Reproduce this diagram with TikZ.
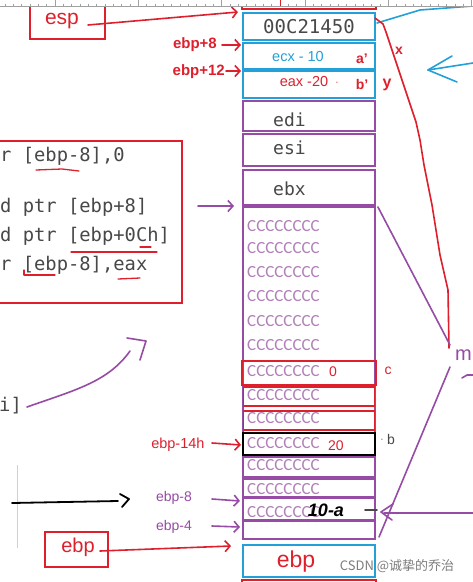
\documentclass[tikz,border=0pt]{standalone}
\usepackage{xcolor}
\usepackage{tikz}
\usepackage{fontspec}
\setmainfont{Liberation Sans}
\setmonofont{DejaVu Sans Mono}
\newfontfamily\cjk{Noto Sans CJK SC}
\newfontfamily\cellfont{Carlito}
\usetikzlibrary{arrows.meta,positioning,calc}
\definecolor{stackred}{RGB}{222,32,45}
\definecolor{stackblue}{RGB}{35,160,215}
\definecolor{stackpurple}{RGB}{150,75,165}
\definecolor{cccpurple}{RGB}{178,128,184}
\definecolor{codegray}{RGB}{72,72,72}
\definecolor{rulergray}{RGB}{160,160,160}
\definecolor{markgray}{RGB}{125,125,125}

\tikzset{
  slot/.style={draw, line width=1.8pt, minimum width=132pt, inner sep=0pt},
  ccrow/.style={font=\cellfont\fontsize{17}{18}\selectfont, text=cccpurple, anchor=west, inner sep=0pt},
  asmtext/.style={font=\ttfamily\fontsize{18.8}{20}\selectfont, text=codegray, anchor=west, inner sep=0pt},
  regtext/.style={font=\ttfamily\fontsize{18}{20}\selectfont, text=codegray, anchor=west, inner sep=0pt},
  ptrlabel/.style={font=\bfseries\fontsize{15}{16}\selectfont, text=stackred, inner sep=0pt},
  handline/.style={line width=1.6pt, line cap=round, line join=round},
  barb/.style={-{Straight Barb[length=5pt,width=11pt]}}
}

\begin{document}
\begin{tikzpicture}[x=1pt, y=-1pt]
  \useasboundingbox (0,0) rectangle (473,582);
  \fill[white] (0,0) rectangle (473,582);

  \draw[stackred, line width=1.8pt] (242,-2) -- (242,9) -- (376,9) -- (376,-2);
  \node[slot, draw=stackblue, minimum height=27pt] (retslot) at (309,26.5) {};
  \node[regtext, font=\ttfamily\fontsize{19}{20}\selectfont, anchor=center] (retval) at (309,27) {00C21450};
  \node[slot, draw=stackblue, minimum height=26pt] (parA) at (309,56) {};
  \node[font=\fontsize{14.5}{15}\selectfont, text=stackblue] (parAval) at (298,57) {ecx - 10};
  \node[ptrlabel, font=\bfseries\fontsize{14}{15}\selectfont] (parAname) at (362,59) {a'};
  \node[slot, draw=stackblue, minimum height=27pt] (parB) at (309,84.5) {};
  \node[font=\fontsize{14.5}{15}\selectfont, text=stackred] (parBval) at (304,82) {eax -20};
  \node[text=stackred, inner sep=0pt] (parBdot) at (337,84) {·};
  \node[ptrlabel, font=\bfseries\fontsize{14}{15}\selectfont] (parBname) at (362,84) {b'};

  \node[slot, draw=stackpurple, minimum height=30pt] (edislot) at (309,116) {};
  \node[regtext] (edi) at (273,120) {edi};
  \node[slot, draw=stackpurple, minimum height=32pt] (esislot) at (309,150) {};
  \node[regtext] (esi) at (273,148) {esi};
  \node[slot, draw=stackpurple, minimum height=35pt] (ebxslot) at (309,187.5) {};
  \node[regtext] (ebx) at (273,189) {ebx};

  \node[slot, draw=stackpurple, minimum height=332pt] (locals) at (309,373) {};
  \node[ccrow] (row1) at (247,226) {CCCCCCCC};
  \node[ccrow] (row2) at (247,248) {CCCCCCCC};
  \node[ccrow] (row3) at (247,272) {CCCCCCCC};
  \node[ccrow] (row4) at (247,296) {CCCCCCCC};
  \node[ccrow] (row5) at (247,321) {CCCCCCCC};
  \node[ccrow] (row6) at (247,345) {CCCCCCCC};
  \node[slot, draw=stackred, minimum width=134pt, minimum height=24pt] (cvar) at (309,373) {};
  \node[ccrow] (row7) at (247,371) {CCCCCCCC};
  \node[font=\fontsize{14}{15}\selectfont, text=stackred] (cval) at (333,372) {0};
  \node[font=\fontsize{14}{15}\selectfont, text=stackred] (cname) at (388,371) {c};
  \node[slot, draw=stackred, minimum width=131pt, minimum height=19pt] (cvar2) at (309,396.5) {};
  \node[ccrow] (row8) at (247,395) {CCCCCCCC};
  \node[slot, draw=stackred, minimum width=131pt, minimum height=19pt] (cvar3) at (309,420.5) {};
  \node[ccrow] (row9) at (247,418) {CCCCCCCC};
  \node[slot, draw=black, minimum height=22pt] (bvar) at (309,444) {};
  \node[ccrow] (row10) at (247,443) {CCCCCCCC};
  \node[font=\fontsize{14}{15}\selectfont, text=stackred] (bval) at (336,446) {20};
  \node[text=stackred, inner sep=0pt] (bdot) at (382,441) {·};
  \node[font=\fontsize{14}{15}\selectfont, text=codegray] (bname) at (391,439) {b};
  \node[slot, draw=stackpurple, minimum height=20pt] (slot8) at (309,467) {};
  \node[ccrow] (row11) at (247,465) {CCCCCCCC};
  \node[slot, draw=stackpurple, minimum height=18pt] (slot4) at (309,488) {};
  \node[ccrow] (row12) at (247,489) {CCCCCCCC};
  \node[slot, draw=stackpurple, minimum height=22pt] (avar) at (309,509) {};
  \node[ccrow] (row13) at (247,512) {CCCCCCCC};
  \node[font=\bfseries\itshape\fontsize{18}{19}\selectfont, inner sep=0pt] (aval) at (326,510) {10-a};
  \draw[handline, codegray] (365,510) -- (377,510);
  \node[slot, draw=stackpurple, minimum height=18pt] (gap) at (309,530) {};

  \node[slot, draw=stackblue, minimum height=32pt] (oldebp) at (309,561) {};
  \node[font=\fontsize{23}{24}\selectfont, text=stackred] (oldebptext) at (296,562) {ebp};
  \draw[stackred, line width=1.8pt] (242,585) -- (242,580) -- (376,580) -- (376,585);

  \draw[stackred, line width=1.5pt] (30,-2) rectangle (105,39);
  \node[font=\fontsize{21}{22}\selectfont, text=stackred] (esp) at (62,21) {esp};
  \coordinate (esptip) at (238,12);
  \draw[handline, stackred, barb] (88,25) -- (esptip);

  \node[ptrlabel, anchor=east] (ebp8) at (217,45) {ebp+8};
  \node[ptrlabel, anchor=east] (ebp12) at (225,72) {ebp+12};
  \draw[handline, stackred, barb] (ebp8.east) ++(5,0) -- (241,45);
  \draw[handline, stackred, barb] (ebp12.east) ++(1,-1) -- (241,71);

  \draw[stackred, line width=1.5pt] (-5,141) rectangle (182,303);
  \node[asmtext] (line1) at (0,156) {r [ebp-8],0};
  \node[asmtext] (line2) at (0,207) {d ptr [ebp+8]};
  \node[asmtext] (line3) at (0,236) {d ptr [ebp+0Ch]};
  \node[asmtext] (line4) at (0,265) {r [ebp-8],eax};
  \draw[handline, stackred, line width=1.3pt] (36,170) -- (62,169) -- (79,171);
  \draw[handline, stackred, line width=1.3pt] (71,252) -- (157,252);
  \draw[handline, stackred, line width=1.3pt] (140,247) -- (151,247);
  \draw[handline, stackred, line width=1.3pt] (24,270) -- (24,275) -- (55,275);
  \draw[handline, stackred, line width=1.3pt] (118,279) -- (140,278);
  \coordinate (ebxtip) at (234,206);
  \draw[handline, stackpurple, barb] (198,206) -- (ebxtip);

  \node[asmtext] (line5) at (-1,406) {i]};
  \coordinate (curvetip) at (130,351);
  \draw[handline, stackpurple] (27,407) .. controls (75,390) and (108,382) .. (curvetip);
  \draw[handline, stackpurple] (127,338) -- (146,341) -- (140,360);

  \node[font=\fontsize{14.5}{15}\selectfont, text=stackred, anchor=east] (ebp14h) at (208,445) {ebp-14h};
  \draw[handline, stackred, barb] (ebp14h.east) ++(4,-2) -- (241,445);

  \draw[rulergray!50, line width=0.8pt] (17,465) -- (17,548);
  \draw[handline, black, line width=1.8pt] (12,503) -- (118,501);
  \draw[handline, black, line width=1.8pt] (120,494) -- (129,499) -- (122,507);

  \node[font=\fontsize{14}{15}\selectfont, text=stackpurple] (ebpm8) at (174,498) {ebp-8};
  \node[font=\fontsize{14}{15}\selectfont, text=stackpurple] (ebpm4) at (174,527) {ebp-4};
  \draw[handline, stackpurple, barb] (212,499) -- (240,501);
  \draw[handline, stackpurple, barb] (212,526) -- (240,527);

  \draw[stackred, line width=1.5pt] (45,532) rectangle (108,567);
  \node[font=\fontsize{20}{21}\selectfont, text=stackred] (ebpbox) at (78,547) {ebp};
  \coordinate (ebptip) at (231,546);
  \draw[handline, stackred, barb] (100,551) -- (ebptip);

  \draw[handline, stackblue] (377,23) -- (420,10) -- (473,6);
  \draw[handline, stackblue] (452,56) -- (428,70) -- (457,82);
  \draw[handline, stackblue] (428,70) -- (473,63);

  \draw[handline, stackred] (375,18) -- (383,24) -- (386,32) -- (416,122) -- (420,140)
    -- (424,165) -- (432,205) -- (440,255) -- (448,290) -- (449,348);
  \node[ptrlabel, font=\bfseries\fontsize{14}{15}\selectfont] (xlabel) at (399,51) {x};
  \node[ptrlabel, font=\bfseries\fontsize{16}{17}\selectfont] (ylabel) at (387,85) {y};

  \node[font=\fontsize{20}{21}\selectfont, text=stackpurple, anchor=west, inner sep=0pt] (mlabel) at (455,355) {m};
  \draw[handline, stackpurple] (ebxslot.south east) ++(2,1) -- (450,345);
  \draw[handline, stackpurple] (450,367) -- (379,537);
  \draw[handline, stackpurple] (462,378) -- (467,375) -- (473,375);
  \draw[handline, stackpurple] (384,513) -- (473,513);
  \draw[handline, stackpurple] (393,504) -- (381,512) -- (392,520);

  \node[font=\cjk\fontsize{13}{14}\selectfont, text=markgray] (mark) at (397,566) {CSDN @诚挚的乔治};

  \fill[white] (0,0) rectangle (473,6);
  \draw[rulergray, line width=0.5pt] (0,6) -- (473,6);
  \foreach \t in {0,...,57} {
    \draw[rulergray, line width=0.5pt] ({5+\t*8.33},3.5) -- ({5+\t*8.33},6);
  }
  \foreach \t in {0,...,5} {
    \draw[rulergray, line width=0.6pt] ({55+\t*83.3},0) -- ({55+\t*83.3},6);
  }
  \draw[stackred, line width=0.8pt] (280,0) -- (280,6);
\end{tikzpicture}
\end{document}
